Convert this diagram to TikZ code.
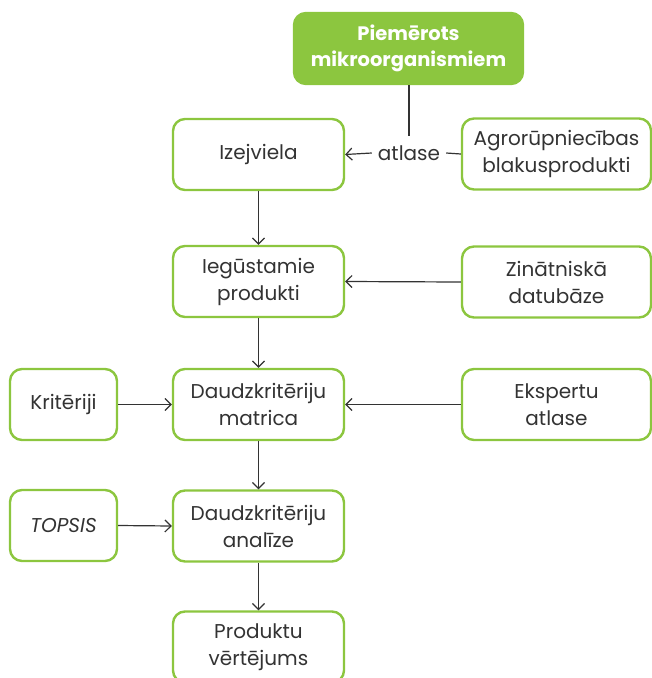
\documentclass[tikz,border=0pt]{standalone}
\usepackage{fontspec}
\setmainfont{Poppins}
\usetikzlibrary{arrows.meta}
\definecolor{leaf}{HTML}{8CC63F}
\definecolor{ink}{HTML}{333333}
\begin{document}
\begin{tikzpicture}[x=1pt,y=-1pt,
  box/.style={draw=leaf, line width=2.4pt, rounded corners=12pt, fill=white,
    minimum height=71pt, align=center, text=ink, font=\fontsize{20}{27}\selectfont, inner sep=0pt},
  midbox/.style={box, minimum width=171pt},
  sidebox/.style={box, minimum width=189pt},
  leftbox/.style={box, minimum width=107pt},
  topbox/.style={box, fill=leaf, draw=leaf, text=white, minimum width=229pt,
    font=\fontsize{19.5}{26}\selectfont\bfseries},
  link/.style={draw=ink, line width=1.2pt},
  flow/.style={link, -{Straight Barb[length=6pt,width=12pt,line width=1.2pt]}}
]
\useasboundingbox (0,0) rectangle (652,678);
\clip (0,0) rectangle (652,678);

% boxes
\node[topbox]  (micro) at (408.5,48.5) {Piemērots\\mikroorganismiem};
\node[midbox]  (izej)  at (258.5,154.5)  {Izejviela};
\node[sidebox] (agro)  at (556.5,154)  {Agrorūpniecības\\blakusprodukti};
\node[midbox]  (ieg)   at (258.5,281.5)  {Iegūstamie\\produkti};
\node[sidebox] (zin)   at (556.5,282)  {Zinātniskā\\datubāze};
\node[midbox]  (matr)  at (258.5,404.5)  {Daudzkritēriju\\matrica};
\node[leftbox] (krit)  at (63.5,404.5) {Kritēriji};
\node[sidebox] (eksp)  at (556.5,404.5){Ekspertu\\atlase};
\node[midbox]  (anal)  at (258.5,526)    {Daudzkritēriju\\analīze};
\node[leftbox] (tops)  at (63.5,525.5) {\itshape TOPSIS};
\node[midbox]  (prod)  at (258.5,647)    {Produktu\\vērtējums};

% selection label between the raw-material boxes
\node[text=ink, font=\fontsize{20}{27}\selectfont, inner xsep=6pt, inner ysep=2pt]
  (atl) at (409,153) {atlase};
\coordinate (join) at (409,136);

% connectors
\draw[link] (micro.south -| join) -- (join);
\draw[link] (agro.west) -- (atl.east);
\draw[flow] (atl.west) -- (izej.east);
\draw[flow] (izej.south) -- (ieg.north);
\draw[flow] (zin.west) -- (ieg.east);
\draw[flow] (ieg.south) -- (matr.north);
\draw[flow] (krit.east) -- (matr.west);
\draw[flow] (eksp.west) -- (matr.east);
\draw[flow] (matr.south) -- (anal.north);
\draw[flow] (tops.east) -- (anal.west);
\draw[flow] (anal.south) -- (prod.north);
\end{tikzpicture}
\end{document}
